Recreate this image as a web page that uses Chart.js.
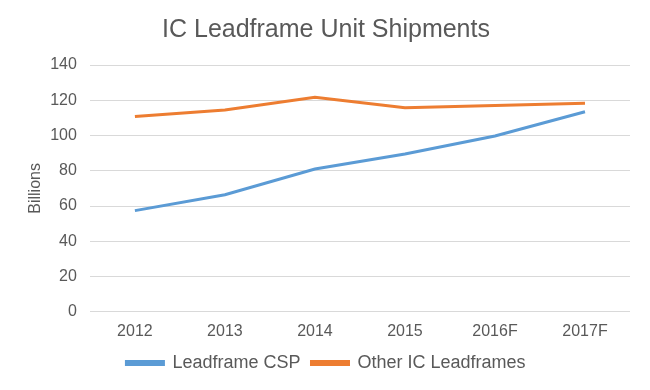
<!DOCTYPE html>
<html>
<head>
<meta charset="utf-8">
<script src="https://cdn.jsdelivr.net/npm/chart.js@4"></script>
<style>
  body { margin: 0; background: #fff; }
  #wrap { width: 650px; height: 390px; }
</style>
</head>
<body>
<div id="wrap"><canvas id="chartShip"></canvas></div>
<script>
// data
var years = ['2012', '2013', '2014', '2015', '2016F', '2017F'];
var leadframeCsp = [57.4, 66.4, 81, 89.5, 99.7, 113.5];
var otherLeadframes = [110.8, 114.5, 121.7, 115.8, 117, 118.3];
var yTicks = [0, 20, 40, 60, 80, 100, 120, 140];

var grey = '#595959';
var fontFam = '"Liberation Sans", Arial, sans-serif';

var chartdata = {
    labels: years,
    datasets: [
        {
            label: 'Leadframe CSP',
            data: leadframeCsp,
            borderColor: '#5b9bd5',
            backgroundColor: '#5b9bd5',
            borderWidth: 3,
            pointRadius: 0,
            tension: 0
        },
        {
            label: 'Other IC Leadframes',
            data: otherLeadframes,
            borderColor: '#ed7d31',
            backgroundColor: '#ed7d31',
            borderWidth: 3,
            pointRadius: 0,
            tension: 0
        }
    ]
};

new Chart(document.getElementById('chartShip'), {
    type: 'line',
    data: chartdata,
    options: {
        responsive: true,
        maintainAspectRatio: false,
        animation: false,
        layout: { padding: { left: 22, right: 20, top: 4, bottom: 8 } },
        plugins: {
            title: {
                display: true,
                text: 'IC Leadframe Unit Shipments',
                color: grey,
                font: { family: fontFam, size: 25, weight: 'normal' },
                padding: { top: 11, bottom: 20 }
            },
            legend: {
                position: 'bottom',
                labels: {
                    color: grey,
                    font: { family: fontFam, size: 18 },
                    boxWidth: 37,
                    boxHeight: 3,
                    padding: 11
                }
            },
            tooltip: { enabled: false }
        },
        scales: {
            x: {
                offset: true,
                grid: { display: false },
                border: { display: false },
                ticks: { color: grey, font: { family: fontFam, size: 16 }, padding: 2 }
            },
            y: {
                min: 0,
                max: 140,
                afterBuildTicks: function (axis) {
                    axis.ticks = yTicks.map(function (v) { return { value: v }; });
                },
                grid: { color: '#d9d9d9', lineWidth: 1, drawTicks: false },
                border: { display: false },
                ticks: { color: grey, font: { family: fontFam, size: 16 }, padding: 13 },
                title: {
                    display: true,
                    text: 'Billions',
                    color: grey,
                    font: { family: fontFam, size: 16 },
                    padding: { top: 4, bottom: -8 }
                }
            }
        }
    }
});
</script>
</body>
</html>
